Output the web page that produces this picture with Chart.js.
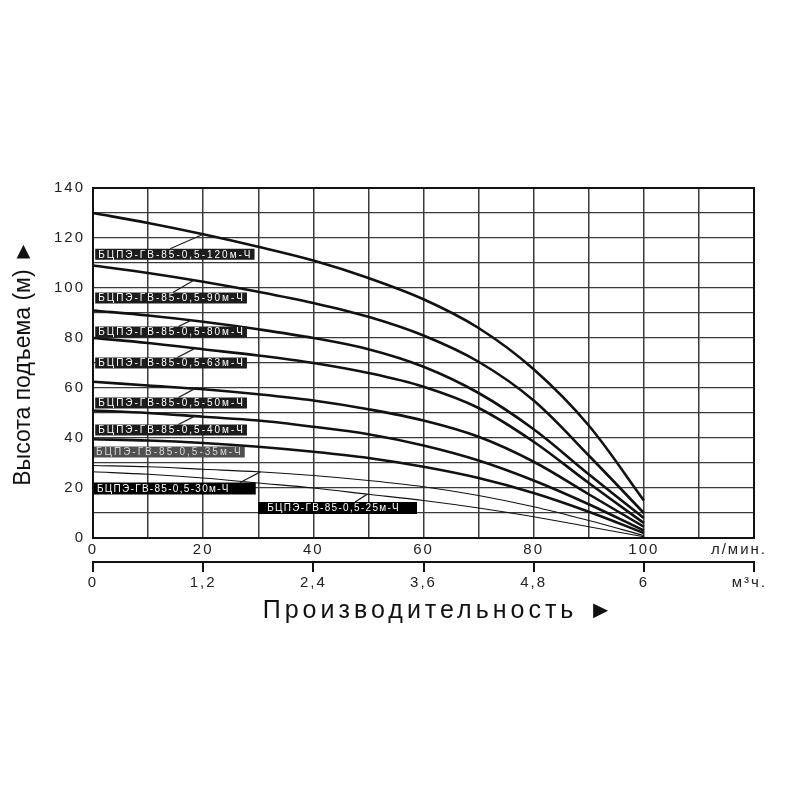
<!DOCTYPE html>
<html>
<head>
<meta charset="utf-8">
<title>БЦПЭ-ГВ-85-0,5 — напорные характеристики</title>
<script src="https://cdn.jsdelivr.net/npm/chart.js@4.4.1/dist/chart.umd.min.js"></script>
<style>
  html, body { margin: 0; padding: 0; background: #fff; }
  canvas { display: block; }
</style>
</head>
<body>
<canvas id="pumpChart" width="800" height="800"></canvas>
<script>
// подача, л/мин
const flows = [0, 10, 20, 30, 40, 50, 60, 70, 80, 90, 100];

// напор, м
const head120 = [130, 126, 121.5, 116.5, 111, 104, 95.5, 84, 67.5, 45, 15];
const head90  = [109, 106, 102.5, 98.5, 94, 88.5, 81, 70.5, 55, 33, 10];
const head80  = [91, 89, 86.5, 83.5, 80, 75.5, 68.5, 58, 43.5, 25.5, 8];
const head63  = [80, 78, 75.5, 73, 70, 66, 60.5, 52, 38.5, 22, 6];
const head50  = [62.5, 61, 59.5, 57.5, 55, 51.5, 47, 40.5, 30.5, 17.5, 4.5];
const head40  = [51, 50, 48.5, 47, 44.5, 41.5, 37, 31, 23, 13.5, 3];
const head35  = [39.5, 39, 38, 36.5, 34.5, 32, 28.5, 24, 18, 10.5, 2];
const head30  = [29, 28.5, 27.5, 26.5, 25, 23, 20.5, 17, 12.5, 7, 1];
const head25  = [26.5, 25.5, 24, 22, 20, 17.5, 15, 12, 8.5, 4.5, 0.5];

const pumpNames = [
  'БЦПЭ-ГВ-85-0,5-120м-Ч',
  'БЦПЭ-ГВ-85-0,5-90м-Ч',
  'БЦПЭ-ГВ-85-0,5-80м-Ч',
  'БЦПЭ-ГВ-85-0,5-63м-Ч',
  'БЦПЭ-ГВ-85-0,5-50м-Ч',
  'БЦПЭ-ГВ-85-0,5-40м-Ч',
  'БЦПЭ-ГВ-85-0,5-35м-Ч',
  'БЦПЭ-ГВ-85-0,5-30м-Ч',
  'БЦПЭ-ГВ-85-0,5-25м-Ч'
];
const pumpHeads = [head120, head90, head80, head63, head50, head40, head35, head30, head25];

// подписи осей
const flowTicks = [0, 20, 40, 60, 80, 100];
const m3Ticks = ['0', '1,2', '2,4', '3,6', '4,8', '6'];
const headTicks = [0, 20, 40, 60, 80, 100, 120, 140];

// where the black name tags sit (flow / head units)
const tagPlace = [
  {left: 0.4, head: 113.5, from: 14, to: 20},
  {left: 0.4, head: 96, from: 14.5, to: 18.3},
  {left: 0.4, head: 82.4, from: 15.5, to: 17.8},
  {left: 0.4, head: 70, from: 15.3, to: 18.5},
  {left: 0.4, head: 54, from: 15.5, to: 18.5},
  {left: 0.4, head: 43.2, from: 15.5, to: 18.5},
  {left: 0, head: 34.4, fill: '#505050', ink: '#d8d8d8', under: true},
  {left: 0, head: 19.8, from: 26.7, to: 30.4, fill: '#000', padL: 4, padR: 26, h: 12, sp: '1.3px'},
  {left: 30, head: 12, from: 47.6, to: 49.8, fill: '#000', padL: 9, padR: 17, h: 12, sp: '1.3px'}
];

function headAt(heads, q) {
  let k = 0;
  while (k < flows.length - 2 && flows[k + 1] < q) k++;
  const t = (q - flows[k]) / (flows[k + 1] - flows[k]);
  return heads[k] + (heads[k + 1] - heads[k]) * t;
}

function drawTags(chart, under) {
  const {ctx, scales: {x, y}} = chart;
  ctx.save();
  ctx.font = '10px "Liberation Sans", Arial, sans-serif';
  ctx.textBaseline = 'middle';
  tagPlace.forEach((t, i) => {
    if (!!t.under !== under) return;
    ctx.letterSpacing = t.sp || '2px';
    const h = t.h || 11;
    const padL = t.padL || 3;
    const padR = t.padR || 2;
    const left = x.getPixelForValue(t.left);
    const mid = y.getPixelForValue(t.head);
    const w = ctx.measureText(pumpNames[i]).width + padL + padR;
    if (t.from != null) {
      ctx.strokeStyle = '#222';
      ctx.lineWidth = 1.3;
      ctx.beginPath();
      ctx.moveTo(x.getPixelForValue(t.from), mid - h / 2);
      ctx.lineTo(x.getPixelForValue(t.to), y.getPixelForValue(headAt(pumpHeads[i], t.to)));
      ctx.stroke();
    }
    ctx.fillStyle = t.fill || '#1c1c1c';
    ctx.fillRect(left, mid - h / 2, w, h);
    ctx.fillStyle = t.ink || '#fff';
    ctx.fillText(pumpNames[i], left + padL, mid + 0.5);
  });
  ctx.restore();
}

const tagPlugin = {
  id: 'pumpTags',
  beforeDatasetsDraw(chart) { drawTags(chart, true); },
  afterDatasetsDraw(chart) { drawTags(chart, false); }
};

// white page, frame round the plot and the unit labels on the right
const framePlugin = {
  id: 'frame',
  beforeDraw(chart) {
    const ctx = chart.ctx;
    ctx.save();
    ctx.fillStyle = '#fff';
    ctx.fillRect(0, 0, chart.width, chart.height);
    ctx.restore();
  },
  afterDraw(chart) {
    const {ctx, chartArea: a, scales} = chart;
    ctx.save();
    ctx.strokeStyle = '#111';
    ctx.lineWidth = 2;
    ctx.strokeRect(a.left, a.top, a.right - a.left, a.bottom - a.top);
    ctx.fillStyle = '#222';
    ctx.font = '15px "Liberation Sans", Arial, sans-serif';
    ctx.letterSpacing = '2px';
    ctx.textAlign = 'right';
    ctx.textBaseline = 'middle';
    ctx.fillText('л/мин.', a.right + 13, scales.x.top + 12);
    ctx.fillText('м³ч.', a.right + 13, scales.x2.top + 21);
    ctx.restore();
  }
};

// the source picture is stretched sideways: widen the horizontal texts a bit
const spacing = {x: {labels: '2px'}, x2: {labels: '2px', title: '4px'}, y: {labels: '2px'}};
const spacingPlugin = {
  id: 'spacing',
  afterLayout(chart) {
    Object.keys(spacing).forEach(id => {
      const s = chart.scales[id];
      if (!s || s._spaced) return;
      const wrap = (name, sp) => {
        const orig = s[name];
        s[name] = function() {
          const c = this.ctx;
          const old = c.letterSpacing;
          c.letterSpacing = sp;
          orig.apply(this, arguments);
          c.letterSpacing = old;
        };
      };
      if (spacing[id].labels) wrap('drawLabels', spacing[id].labels);
      if (spacing[id].title) wrap('drawTitle', spacing[id].title);
      s._spaced = true;
    });
  }
};

const datasets = pumpHeads.map((heads, i) => ({
  label: pumpNames[i],
  data: flows.map((q, k) => ({x: q, y: heads[k]})),
  borderColor: '#111',
  borderWidth: i < 7 ? 2.6 : 1.2,
  pointRadius: 0,
  fill: false,
  tension: 0.35
}));

const tickFont = {family: '"Liberation Sans", Arial, sans-serif', size: 15};

const config = {
  type: 'line',
  data: {datasets: datasets},
  options: {
    responsive: false,
    animation: false,
    layout: {padding: {top: 188, right: 46, bottom: 174, left: 0}},
    plugins: {
      legend: {display: false},
      tooltip: {enabled: false}
    },
    scales: {
      x: {
        type: 'linear',
        position: 'bottom',
        weight: 0,
        min: 0,
        max: 120,
        grid: {color: '#3a3a3a', lineWidth: 1.5, drawTicks: false},
        border: {color: '#111', width: 2},
        ticks: {
          stepSize: 10,
          padding: 3,
          color: '#222',
          font: tickFont,
          maxRotation: 0,
          autoSkip: false,
          callback: v => flowTicks.includes(v) ? String(v) : ''
        },
        afterFit: s => { s.height = 24; }
      },
      x2: {
        type: 'linear',
        position: 'bottom',
        weight: 1,
        min: 0,
        max: 7.2,
        grid: {drawOnChartArea: false, color: '#111', lineWidth: 2, tickLength: 10},
        border: {color: '#111', width: 2},
        ticks: {
          stepSize: 1.2,
          padding: 2,
          color: '#222',
          font: tickFont,
          maxRotation: 0,
          autoSkip: false,
          callback: (v, i) => m3Ticks[i] !== undefined ? m3Ticks[i] : ''
        },
        title: {
          display: true,
          text: '   Производительность ►',
          color: '#111',
          font: {family: '"Liberation Sans", Arial, sans-serif', size: 25},
          padding: {top: 0, bottom: 0}
        },
        afterFit: s => { s.height = 64; }
      },
      y: {
        min: 0,
        max: 140,
        grid: {color: '#3a3a3a', lineWidth: 1.2, drawTicks: false},
        border: {color: '#111', width: 2},
        ticks: {
          stepSize: 10,
          padding: 8,
          color: '#222',
          font: tickFont,
          autoSkip: false,
          callback: v => headTicks.includes(v) ? String(v) : ''
        },
        title: {
          display: true,
          text: 'Высота подъема (м) ►',
          color: '#111',
          font: {family: '"Liberation Sans", Arial, sans-serif', size: 23},
          padding: {top: 10, bottom: 0}
        },
        afterFit: s => { s.width = 93; }
      }
    }
  },
  plugins: [framePlugin, spacingPlugin, tagPlugin]
};

const pumpChart = new Chart(document.getElementById('pumpChart'), config);
</script>
</body>
</html>
